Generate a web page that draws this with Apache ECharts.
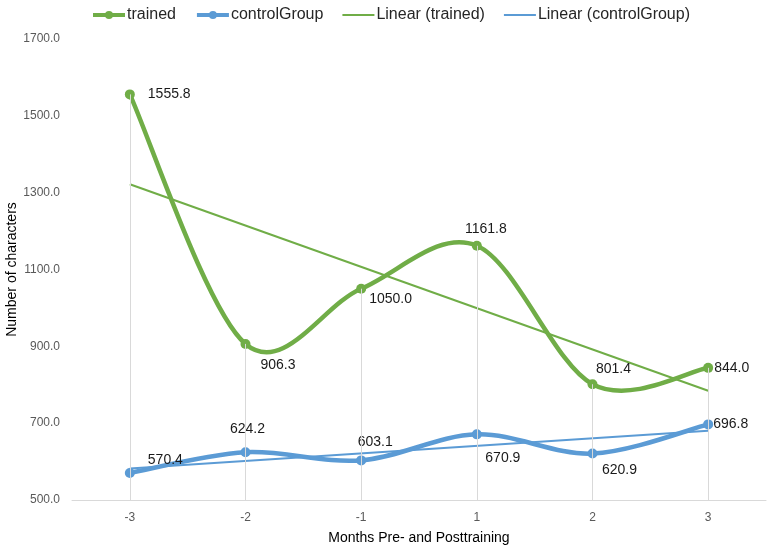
<!DOCTYPE html>
<html>
<head>
<meta charset="utf-8">
<script src="https://cdn.jsdelivr.net/npm/echarts@6/dist/echarts.min.js"></script>
<style>html,body{margin:0;padding:0;background:#fff}#c{width:768px;height:548px}</style>
</head>
<body>
<div id="c"></div>
<script>
var categories = ['-3', '-2', '-1', '1', '2', '3'];
var trained = [1555.8, 906.3, 1050.0, 1161.8, 801.4, 844.0];
var controlGroup = [570.4, 624.2, 603.1, 670.9, 620.9, 696.8];
// trend line end values (first and last category)
var linearTrained = [1321.9, null, null, null, null, 784.5];
var linearControl = [581.8, null, null, null, null, 680.3];
var yTicks = [500, 700, 900, 1100, 1300, 1500, 1700];

var GREEN = '#70AD47', BLUE = '#5B9BD5';
var FONT = 'Liberation Sans';

var trainedLabelCfg = [
  ['right', [8, 0]], ['right', [5, 21]], ['right', [-2, 10]],
  ['top', [9, 0]], ['top', [21, 2]], ['right', [-4, 0]]
];
var controlLabelCfg = [
  ['right', [8, -13]], ['top', [2, -6]], ['top', [14, -1]],
  ['bottom', [26, 7]], ['bottom', [27, 0]], ['right', [-5, 0]]
];

function withLabels(values, cfg) {
  return values.map(function (v, i) {
    return { value: v, label: { position: cfg[i][0], offset: cfg[i][1] } };
  });
}

// Excel-like smoothed curve (Catmull-Rom Bezier) through points mapped by the axes
function curveRenderer(values, color, width) {
  return function (params, api) {
    var pts = values.map(function (v, i) { return api.coord([i, v]); });
    var n = pts.length, k = 1 / 6;
    var d = 'M' + pts[0][0] + ',' + pts[0][1];
    for (var i = 0; i < n - 1; i++) {
      var p0 = pts[Math.max(i - 1, 0)], p1 = pts[i], p2 = pts[i + 1], p3 = pts[Math.min(i + 2, n - 1)];
      var c1x = p1[0] + (p2[0] - p0[0]) * k, c1y = p1[1] + (p2[1] - p0[1]) * k;
      var c2x = p2[0] - (p3[0] - p1[0]) * k, c2y = p2[1] - (p3[1] - p1[1]) * k;
      d += ' C' + c1x + ',' + c1y + ' ' + c2x + ',' + c2y + ' ' + p2[0] + ',' + p2[1];
    }
    return {
      type: 'path',
      shape: { pathData: d },
      style: { stroke: color, lineWidth: width, fill: null, lineJoin: 'round', lineCap: 'round' }
    };
  };
}

var yMin = yTicks[0], yMax = yTicks[yTicks.length - 1];
var lineIcon = 'path://M0,0L32,0L32,2L0,2Z';

var chart = echarts.init(document.getElementById('c'), null, { renderer: 'canvas' });
chart.setOption({
  animation: false,
  textStyle: { fontFamily: FONT },
  legend: {
    top: 2,
    left: 86,
    data: [
      { name: 'trained', lineStyle: { opacity: 1, width: 4, color: GREEN } },
      { name: 'controlGroup', lineStyle: { opacity: 1, width: 4, color: BLUE } },
      { name: 'Linear (trained)', icon: lineIcon, itemStyle: { color: GREEN } },
      { name: 'Linear (controlGroup)', icon: lineIcon, itemStyle: { color: BLUE } }
    ],
    itemWidth: 32,
    itemHeight: 10,
    itemGap: 19,
    textStyle: { fontSize: 16, color: '#262626', fontFamily: FONT, padding: [0, 0, 0, -3] }
  },
  grid: { left: 72, right: 2, top: 39, bottom: 48, containLabel: false, outerBoundsMode: 'none' },
  xAxis: {
    type: 'category',
    data: categories,
    boundaryGap: true,
    axisLine: { lineStyle: { color: '#d9d9d9', width: 1 } },
    axisTick: { show: false },
    axisLabel: { color: '#595959', fontSize: 12, margin: 12, fontFamily: FONT },
    name: 'Months Pre- and Posttraining',
    nameLocation: 'middle',
    nameGap: 31,
    nameMoveOverlap: false,
    nameTextStyle: { color: '#000', fontSize: 14, fontFamily: FONT },
    splitLine: { show: false }
  },
  yAxis: {
    type: 'value',
    min: yMin,
    max: yMax,
    interval: 200,
    axisLine: { show: false },
    axisTick: { show: false },
    splitLine: { show: false },
    axisLabel: {
      color: '#595959', fontSize: 12, margin: 12, fontFamily: FONT,
      formatter: function (v) { return v.toFixed(1); }
    },
    name: 'Number of characters',
    nameLocation: 'middle',
    nameGap: 53,
    nameMoveOverlap: false,
    nameTextStyle: { color: '#000', fontSize: 14, fontFamily: FONT }
  },
  series: [
    {
      name: 'drop',
      type: 'line',
      data: [],
      z: 1,
      silent: true,
      markLine: {
        silent: true,
        symbol: ['none', 'none'],
        label: { show: false },
        lineStyle: { color: '#d9d9d9', width: 1, type: 'solid' },
        data: trained.map(function (v, i) {
          return [{ coord: [i, v] }, { coord: [i, yMin] }];
        })
      }
    },
    {
      name: 'Linear (trained)',
      type: 'line',
      data: linearTrained,
      connectNulls: true,
      symbol: 'none',
      z: 2,
      lineStyle: { color: GREEN, width: 2 },
      itemStyle: { color: GREEN }
    },
    {
      name: 'Linear (controlGroup)',
      type: 'line',
      data: linearControl,
      connectNulls: true,
      symbol: 'none',
      z: 2,
      lineStyle: { color: BLUE, width: 2 },
      itemStyle: { color: BLUE }
    },
    {
      name: 'trainedCurve',
      type: 'custom',
      silent: true,
      z: 3,
      data: [[0, yMin]],
      encode: { x: 0, y: 1 },
      renderItem: curveRenderer(trained, GREEN, 4.5)
    },
    {
      name: 'controlCurve',
      type: 'custom',
      silent: true,
      z: 3,
      data: [[0, yMin]],
      encode: { x: 0, y: 1 },
      renderItem: curveRenderer(controlGroup, BLUE, 4.5)
    },
    {
      name: 'trained',
      type: 'line',
      data: withLabels(trained, trainedLabelCfg),
      symbol: 'circle',
      symbolSize: 10,
      z: 4,
      lineStyle: { color: GREEN, width: 4.5, opacity: 0 },
      itemStyle: { color: GREEN },
      label: {
        show: true, color: '#1a1a1a', fontSize: 14, fontFamily: FONT,
        formatter: function (p) { return p.value.toFixed(1); }
      }
    },
    {
      name: 'controlGroup',
      type: 'line',
      data: withLabels(controlGroup, controlLabelCfg),
      symbol: 'circle',
      symbolSize: 10,
      z: 4,
      lineStyle: { color: BLUE, width: 4.5, opacity: 0 },
      itemStyle: { color: BLUE },
      label: {
        show: true, color: '#1a1a1a', fontSize: 14, fontFamily: FONT,
        formatter: function (p) { return p.value.toFixed(1); }
      }
    }
  ]
});
</script>
</body>
</html>
